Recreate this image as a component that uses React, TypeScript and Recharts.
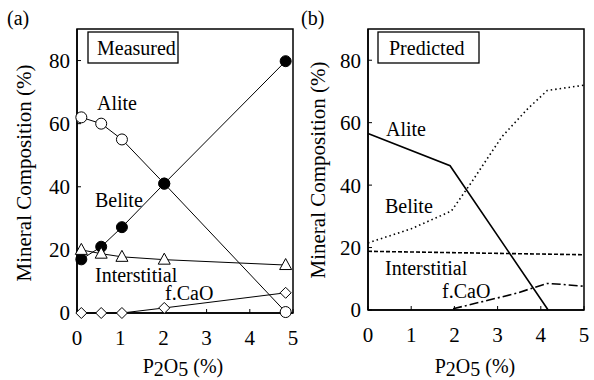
import React from "react";
import { LineChart, Line, XAxis, YAxis, ReferenceArea } from "recharts";

const FONT = "Liberation Serif";

const xTicks = [0, 1, 2, 3, 4, 5];
const yTicks = [0, 20, 40, 60, 80];

// (a) measured
const measuredX = [0.1, 0.56, 1.04, 2.02, 4.83];
const measuredAlite = [62, 60, 55, 41, 0.3];
const measuredBelite = [17, 21, 27.2, 41, 79.8];
const measuredInterstitial = [20, 18.8, 17.8, 16.9, 15.2];
const measuredFCaO = [0, 0, 0, 1.6, 6.4];

// (b) predicted
const predAliteX = [0, 1.9, 4.17];
const predAlite = [56.5, 46.2, 0];
const predBeliteX = [0, 1, 1.93, 2.4, 3.1, 3.7, 4.15, 5];
const predBelite = [21.5, 26, 31.7, 41, 55.5, 64.5, 70.3, 72];
const predInterX = [0, 5];
const predInter = [18.8, 17.7];
const predFCaOX = [1.97, 2.8, 3.45, 3.8, 4.15, 4.5, 5];
const predFCaO = [0.4, 3.2, 5.4, 7.0, 8.5, 8.2, 7.6];

const measured = measuredX.map((x, i) => ({
  x,
  alite: measuredAlite[i],
  belite: measuredBelite[i],
  inter: measuredInterstitial[i],
  fcao: measuredFCaO[i],
}));

const zip = (xs: number[], ys: number[]) => xs.map((x, i) => ({ x, y: ys[i] }));

const tickStyle = { fontSize: 21, fill: "#000", fontFamily: FONT };

const triangle = (p: any) => (
  <path
    key={`tri-${p.index}`}
    d={`M${p.cx},${p.cy - 6.5} L${p.cx + 6},${p.cy + 4.5} L${p.cx - 6},${p.cy + 4.5} Z`}
    fill="#fff"
    stroke="#000"
    strokeWidth={1}
  />
);

const diamond = (p: any) => (
  <path
    key={`dia-${p.index}`}
    d={`M${p.cx},${p.cy - 5.5} L${p.cx + 5.5},${p.cy} L${p.cx},${p.cy + 5.5} L${p.cx - 5.5},${p.cy} Z`}
    fill="#fff"
    stroke="#000"
    strokeWidth={1}
  />
);

const axes = (yWidth: number, xHeight: number) => [
  <XAxis
    key="x"
    dataKey="x"
    type="number"
    domain={[0, 5]}
    ticks={xTicks}
    interval={0}
    height={xHeight}
    tickSize={-4}
    tickMargin={21}
    tick={tickStyle}
    axisLine={{ stroke: "#000", strokeWidth: 1.5 }}
    tickLine={{ stroke: "#000" }}
  />,
  <YAxis
    key="y"
    type="number"
    domain={[0, 90]}
    ticks={yTicks}
    interval={0}
    width={yWidth}
    tickSize={-4}
    tickMargin={11}
    tick={tickStyle}
    axisLine={{ stroke: "#000", strokeWidth: 1.5 }}
    tickLine={{ stroke: "#000" }}
  />,
  <ReferenceArea
    key="frame"
    x1={0}
    x2={5}
    y1={0}
    y2={90}
    fill="none"
    fillOpacity={0}
    stroke="#000"
    strokeWidth={1.5}
  />,
];

const T = (props: any) => <text fontFamily={FONT} fontSize={20} fill="#000" {...props} />;

const XLabel = ({ cx }: { cx: number }) => (
  <T x={cx} y={373} textAnchor="middle">
    P<tspan dy={3}>2</tspan>
    <tspan dy={-3}>O</tspan>
    <tspan dy={3}>5</tspan>
    <tspan dy={-3}> (%)</tspan>
  </T>
);

export default function App() {
  return (
    <div
      style={{
        position: "absolute",
        left: 0,
        top: 0,
        width: 594,
        height: 380,
        background: "#fff",
        fontFamily: FONT,
      }}
    >
      <div style={{ position: "absolute", left: 0, top: 0 }}>
        <LineChart width={300} height={380} data={measured} margin={{ top: 29, right: 7, bottom: 0, left: 0 }}>
          {axes(77, 67)}
          <Line dataKey="alite" stroke="#000" strokeWidth={1} isAnimationActive={false}
            dot={{ r: 5.5, fill: "#fff", stroke: "#000", strokeWidth: 1 }} />
          <Line dataKey="belite" stroke="#000" strokeWidth={1} isAnimationActive={false}
            dot={{ r: 5.5, fill: "#000", stroke: "#000", strokeWidth: 1 }} />
          <Line dataKey="inter" stroke="#000" strokeWidth={1} isAnimationActive={false} dot={triangle} />
          <Line dataKey="fcao" stroke="#000" strokeWidth={1} isAnimationActive={false} dot={diamond} />
        </LineChart>
      </div>
      <div style={{ position: "absolute", left: 297, top: 0 }}>
        <LineChart width={297} height={380} margin={{ top: 29, right: 10, bottom: 0, left: 0 }}>
          {axes(71, 70)}
          <Line data={zip(predAliteX, predAlite)} dataKey="y" stroke="#000" strokeWidth={1.6}
            dot={false} isAnimationActive={false} />
          <Line data={zip(predBeliteX, predBelite)} dataKey="y" stroke="#000" strokeWidth={1.6}
            strokeDasharray="1.5 3" dot={false} isAnimationActive={false} />
          <Line data={zip(predInterX, predInter)} dataKey="y" stroke="#000" strokeWidth={1.6}
            strokeDasharray="4 2" dot={false} isAnimationActive={false} />
          <Line data={zip(predFCaOX, predFCaO)} dataKey="y" stroke="#000" strokeWidth={1.6}
            strokeDasharray="9 3 2 3" dot={false} isAnimationActive={false} />
        </LineChart>
      </div>
      <svg
        width={594}
        height={380}
        style={{ position: "absolute", left: 0, top: 0, pointerEvents: "none" }}
      >
        <T x={7} y={25}>(a)</T>
        <T x={301} y={25}>(b)</T>

        <T transform="translate(31,173) rotate(-90)" textAnchor="middle" fontSize={21}>
          Mineral Composition (%)
        </T>
        <T transform="translate(325,170) rotate(-90)" textAnchor="middle" fontSize={21}>
          Mineral Composition (%)
        </T>

        <XLabel cx={183} />
        <XLabel cx={475} />

        <rect x={88} y={32} width={90} height={31} fill="#fff" stroke="#000" strokeWidth={1.3} />
        <T x={97} y={55}>Measured</T>
        <rect x={378} y={32} width={101} height={31} fill="#fff" stroke="#000" strokeWidth={1.3} />
        <T x={389} y={55}>Predicted</T>

        <T x={97} y={110}>Alite</T>
        <T x={95} y={207}>Belite</T>
        <T x={95} y={282}>Interstitial</T>
        <T x={165} y={300}>f.CaO</T>

        <T x={386} y={136}>Alite</T>
        <T x={385} y={213}>Belite</T>
        <T x={385} y={275}>Interstitial</T>
        <T x={442} y={298}>f.CaO</T>
      </svg>
    </div>
  );
}
